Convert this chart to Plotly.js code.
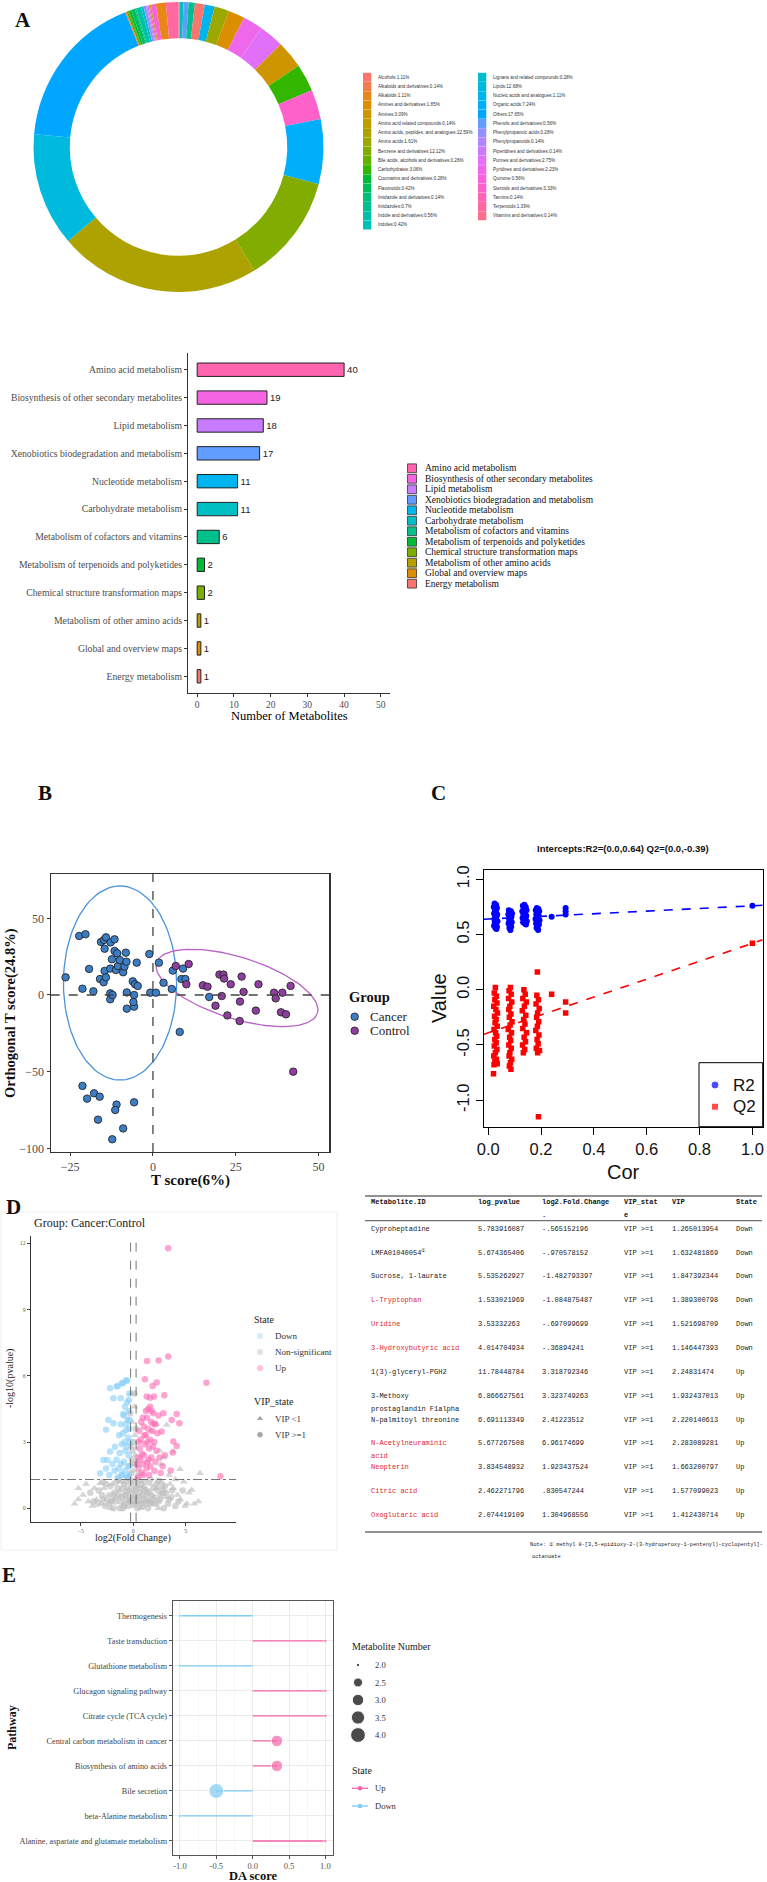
<!DOCTYPE html>
<html><head><meta charset="utf-8">
<script src="https://cdn.plot.ly/plotly-3.0.1.min.js"></script>
<style>html,body{margin:0;padding:0;background:#fff}#chart{width:767px;height:1882px}</style>
</head><body><div id="chart"></div>
<script>
// ================= DATA =================
// Panel A (donut): metabolite classes in legend order, with percentages
const classNames = ['Alcohols','Alkaloids and derivatives','Alkaloids','Amines and derivatives','Amines',
 'Amino acid related compounds','Amino acids, peptides, and analogues','Amino acids','Benzene and derivatives',
 'Bile acids, alcohols and derivatives','Carbohydrates','Coumarins and derivatives','Flavonoids',
 'Imidazole and derivatives','Imidazoles','Indole and derivatives','Indoles',
 'Lignans and related compounds','Lipids','Nucleic acids and analogues','Organic acids','Others',
 'Phenols and derivatives','Phenylpropanoic acids','Phenylpropanoids','Piperidines and derivatives',
 'Purines and derivatives','Pyridines and derivatives','Quinone','Steroids and derivatives','Tannins',
 'Terpenoids','Vitamins and derivatives'];
const classPercent = ['1.11','0.14','1.11','1.85','3.09','0.14','22.59','1.61','12.12','0.28','3.06','0.28','0.42',
 '0.14','0.7','0.56','0.42','0.28','12.68','1.11','7.24','17.65','0.56','0.28','0.14','0.14','2.75','2.23','0.56',
 '3.33','0.14','1.39','0.14'];
// order of the slices round the ring, clockwise from 12 o'clock
const ringOrder = ['Vitamins and derivatives','Indoles','Phenols and derivatives','Imidazoles','Alcohols',
 'Nucleic acids and analogues','Amino acids','Amines and derivatives','Pyridines and derivatives',
 'Purines and derivatives','Amines','Carbohydrates','Steroids and derivatives','Organic acids',
 'Benzene and derivatives','Amino acids, peptides, and analogues','Lipids','Others',
 'Alkaloids and derivatives','Bile acids, alcohols and derivatives','Coumarins and derivatives','Flavonoids',
 'Imidazole and derivatives','Indole and derivatives','Lignans and related compounds','Phenylpropanoic acids',
 'Phenylpropanoids','Piperidines and derivatives','Tannins','Amino acid related compounds','Quinone',
 'Alkaloids','Terpenoids'];

// Panel A (bars): KEGG pathway classes
const pathwayNames = ['Amino acid metabolism','Biosynthesis of other secondary metabolites','Lipid metabolism',
 'Xenobiotics biodegradation and metabolism','Nucleotide metabolism','Carbohydrate metabolism',
 'Metabolism of cofactors and vitamins','Metabolism of terpenoids and polyketides',
 'Chemical structure transformation maps','Metabolism of other amino acids','Global and overview maps',
 'Energy metabolism'];
const pathwayCounts = [40,19,18,17,11,11,6,2,2,1,1,1];
const barAxisTitle = 'Number of Metabolites';

// Panel B (OPLS-DA scores): [T score, orthogonal T score]
const cancerScores = [[-26.4,11.5],[-22.3,38.5],[-20.4,39.6],[-21.3,4.1],[-19.3,17],[-18.0,2.4],[-16.0,10.4],
 [-15.7,34.6],[-14.8,35.9],[-14.2,37.6],[-14.6,30.2],[-14.6,15.7],[-14.9,8.3],[-14.2,11.5],[-12.9,1.1],
 [-12.9,-2.8],[-12.2,0],[-12.9,17.2],[-12.8,34.3],[-12.4,23.3],[-11.6,36.3],[-11.6,28.7],[-11.2,16.3],
 [-10.8,27.2],[-10.6,18.9],[-10.0,22.8],[-9.0,14.8],[-8.6,18.5],[-8.2,27.6],[-8.0,21.7],[-7.9,1.7],
 [-7.9,-8.9],[-6.1,8.9],[-5.7,0],[-5.7,-7.6],[-5.9,-4.6],[-5.4,7.0],[-4.9,21.1],[-4.6,5.9],[-1.1,26.7],
 [-0.8,1.5],[0.9,1.5],[1.8,21.1],[3.2,8.0],[5.7,3.9],[6.0,15.9],[9.1,17.2],[8.6,10.4],[9.8,10.4],
 [17.0,-1.3],[8.1,-24.1],[-21.3,-59.3],[-17.8,-64.1],[-19.9,-67.6],[-16.1,-66.3],[-11.0,-71.5],
 [-11.4,-75.0],[-5.7,-70.0],[-16.6,-81.3],[-9.0,-87.0],[-12.3,-94.1]];
const controlScores = [[6.9,18.9],[10.8,20.2],[10.1,7.0],[15.1,6.3],[16.5,5.4],[18.9,-7.0],[20.1,13.3],
 [21.3,13.3],[21.5,10.7],[20.8,-0.7],[23.5,7.0],[22.5,-13.3],[26.2,-17.0],[26.3,-4.3],[26.8,12.0],
 [27.4,2.0],[31.1,-10.2],[31.9,7.0],[36.6,1.5],[37.1,-2.2],[39.1,1.5],[38.7,-11.3],[40.2,-12.6],
 [41.6,5.9],[42.4,-50.0]];
// 95% ellipses: [centre x, centre y, axis1 dx, axis1 dy, axis2 dx, axis2 dy]
const cancerEllipse = [-9.95, 7.8, 17.1, 0, 0, 63.3];
const controlEllipse = [25.4, 4.6, 24.3, -16.5, -2.8, -19.1];
const groupNames = ['Cancer','Control'];

// Panel C (permutation test): [Cor, value]
const r2Points = [[0.024,0.78],[0.030,0.77],[0.021,0.75],[0.033,0.74],[0.026,0.72],[0.029,0.71],[0.022,0.69],
 [0.034,0.68],[0.027,0.67],[0.031,0.66],[0.023,0.64],[0.028,0.63],[0.035,0.62],[0.025,0.61],[0.030,0.60],
 [0.022,0.58],[0.033,0.57],[0.027,0.56],[0.031,0.55],
 [0.078,0.72],[0.086,0.71],[0.082,0.70],[0.090,0.69],[0.076,0.68],[0.084,0.67],[0.088,0.66],[0.079,0.64],
 [0.085,0.63],[0.081,0.62],[0.089,0.61],[0.077,0.60],[0.083,0.58],[0.087,0.57],[0.080,0.56],[0.084,0.54],
 [0.137,0.77],[0.131,0.76],[0.142,0.75],[0.134,0.73],[0.145,0.72],[0.129,0.71],[0.139,0.70],[0.133,0.68],
 [0.144,0.67],[0.136,0.66],[0.130,0.65],[0.141,0.64],[0.135,0.63],[0.146,0.62],[0.132,0.61],[0.138,0.60],
 [0.143,0.59],
 [0.184,0.74],[0.190,0.73],[0.180,0.72],[0.193,0.71],[0.186,0.70],[0.182,0.68],[0.191,0.67],[0.188,0.65],
 [0.179,0.64],[0.194,0.63],[0.185,0.62],[0.181,0.60],[0.192,0.59],[0.187,0.57],[0.183,0.56],[0.189,0.54],
 [0.240,0.66],[0.293,0.74],[0.293,0.71],[0.293,0.68],[1.0,0.76]];
const q2Points = [[0.027,0.02],[0.023,-0.03],[0.031,-0.06],[0.025,-0.09],[0.033,-0.12],[0.021,-0.15],
 [0.029,-0.18],[0.035,-0.21],[0.024,-0.24],[0.030,-0.27],[0.026,-0.30],[0.034,-0.33],[0.022,-0.36],
 [0.028,-0.39],[0.032,-0.42],[0.025,-0.45],[0.030,-0.48],[0.023,-0.51],[0.033,-0.54],[0.027,-0.57],
 [0.021,-0.60],[0.031,-0.63],[0.025,-0.65],[0.034,-0.67],[0.022,-0.68],[0.020,-0.76],
 [0.084,0.02],[0.079,-0.01],[0.087,-0.04],[0.077,-0.08],[0.089,-0.11],[0.082,-0.15],[0.078,-0.18],
 [0.086,-0.22],[0.080,-0.25],[0.090,-0.29],[0.083,-0.32],[0.076,-0.36],[0.088,-0.39],[0.081,-0.43],
 [0.085,-0.46],[0.078,-0.50],[0.087,-0.53],[0.082,-0.57],[0.079,-0.60],[0.089,-0.63],[0.084,-0.66],
 [0.080,-0.69],[0.086,-0.72],
 [0.135,0.00],[0.140,-0.04],[0.131,-0.08],[0.144,-0.11],[0.137,-0.15],[0.129,-0.19],[0.142,-0.23],
 [0.134,-0.27],[0.139,-0.31],[0.131,-0.35],[0.145,-0.39],[0.136,-0.43],[0.141,-0.47],[0.130,-0.50],
 [0.138,-0.54],[0.133,-0.57],
 [0.186,0.16],[0.184,-0.05],[0.190,-0.09],[0.181,-0.13],[0.193,-0.17],[0.187,-0.21],[0.183,-0.25],
 [0.191,-0.29],[0.186,-0.33],[0.180,-0.37],[0.192,-0.41],[0.185,-0.45],[0.189,-0.49],[0.182,-0.53],
 [0.194,-0.55],[0.187,-0.57],[0.190,-1.15],
 [0.240,-0.04],[0.293,-0.11],[0.293,-0.21],[1.0,0.42]];
const interceptR2 = [0.0, 0.64];
const interceptQ2 = [0.0, -0.39];

// Panel D (volcano): [log2 fold change, -log10 p]
const upPoints = [[3.32,11.78],[3.32,6.87],[2.41,6.69],[6.96,5.68],[1.92,3.83],[0.83,2.46],[1.30,2.07],
 [1.30,6.67],[1.11,5.84],[1.84,5.54],[2.22,5.69],[1.27,5.06],[1.97,5.06],[2.95,5.12],[2.86,4.30],
 [4.13,4.27],[4.38,3.85],[3.65,4.0],[2.70,3.47],[3.81,3.02],[4.13,2.82],[3.75,2.52],[3.56,1.71],[8.3,1.45],
 [0.4,1.4],[0.5,1.8],[0.45,2.3],[0.6,2.7],[0.7,3.1],[0.55,3.5],[0.8,1.6],[0.9,2.0],[1.0,2.4],[1.1,2.9],
 [1.2,3.3],[1.0,3.7],[1.3,4.1],[1.4,4.5],[1.5,1.5],[1.6,1.9],[1.7,2.3],[1.5,2.7],[1.6,3.1],[1.8,3.5],
 [1.7,3.9],[1.9,4.3],[1.6,4.6],[2.0,1.7],[2.1,2.1],[2.2,2.6],[2.0,3.0],[2.3,3.4],[2.1,3.8],[2.4,4.2],
 [0.35,2.0],[0.65,2.2],[0.75,3.9],[0.95,1.5],[1.25,1.8],[1.45,2.2],[1.35,3.0],[1.85,2.8],[2.5,2.3],
 [2.6,1.6],[1.2,4.4],[1.75,4.4],[0.5,3.0],[1.05,3.3],[2.8,1.9],[3.0,2.4],[0.9,4.1],[1.6,5.0],[1.4,3.6]];
const downPoints = [[-0.57,5.78],[-0.97,5.67],[-1.48,5.54],[-1.08,1.53],[-0.70,3.53],[-0.37,4.01],
 [-2.22,5.43],[-1.59,5.51],[-1.11,5.66],[-0.70,5.78],[-1.90,4.98],[-1.21,4.98],[-2.38,4.0],[-1.90,3.85],
 [-2.60,3.55],[-3.17,1.58],[-2.86,2.19],[-2.48,2.19],[-2.22,2.57],[-1.75,2.79],[-0.97,4.27],
 [-0.4,1.5],[-0.5,1.9],[-0.45,2.4],[-0.6,2.8],[-0.5,3.2],[-0.4,3.6],[-0.55,4.0],[-0.45,4.4],[-0.6,4.8],
 [-0.8,1.7],[-0.9,2.1],[-0.75,2.6],[-0.85,3.0],[-1.0,3.4],[-0.7,3.8],[-0.9,4.2],[-0.8,4.6],[-1.1,1.5],
 [-1.2,2.0],[-1.3,2.5],[-1.1,2.9],[-1.4,1.8],[-1.6,2.2],[-1.5,1.4],[-1.8,1.7],[-2.0,2.0],[-1.35,3.3],
 [-0.35,1.9],[-0.65,1.4],[-2.3,1.5],[-2.6,1.8],[-1.2,3.8],[-0.35,3.0],[-0.38,5.2],[-0.42,4.9]];
const nsLowVipPoints = [[-5.24,0.91],[-5.24,0.41],[3.17,3.77],[6.35,1.58],[4.44,1.77],[5.56,0.83],[5.3,0.7],
 [4.92,0.1],[3.81,2.57],[2.63,2.0],[2.9,2.3],[-3.71,0.91],[-3.17,1.13],[-0.2,5.2],[0.1,4.6],[-0.1,3.9],
 [0.15,3.3],[-0.15,2.8],[0.2,2.4],[-0.25,2.0],[0.05,1.7],[2.2,3.8],[1.7,3.5],[2.5,2.6],[3.4,1.5],[4.0,1.3],
 [-1.2,1.2],[-2.4,0.6],[-4.3,0.3],[-3.0,0.2],[2.2,0.9],[3.1,0.5],[4.5,0.4],[5.8,0.2],[-1.6,0.5],[0.8,0.3],
 [1.6,1.1],[-0.6,0.9],[6.2,0.3],[-2.8,0.9],[1.2,0.6],[-0.9,0.2],[3.8,0.9],[-4.8,0.6],[-2.0,1.1],[0.4,1.0],
 [2.7,1.2],[-3.5,0.4],[4.2,0.6],[1.9,0.2],[-4.5,1.1],[-3.9,0.1],[-2.2,0.0],[-1.3,0.8],[0.3,0.5],[1.0,1.0],
 [1.4,0.3],[2.4,0.0],[3.5,1.1],[4.8,1.2],[5.1,0.2],[-0.5,0.3],[0.7,0.0],[-1.9,0.4],[2.9,0.8],[-5.6,0.2]];
const nsHighVipPoints = [[-0.5,0.1],[-0.3,0.3],[0.2,0.2],[0.5,0.5],[-0.8,0.6],[1.0,0.4],[-1.2,0.3],[1.3,0.8],
 [-1.5,0.9],[0.7,1.1],[-0.1,0.7],[0.3,0.9],[-2.1,0.3],[2.0,0.5],[-1.8,0.7],[1.7,0.6],[2.4,0.3],[-2.5,0.4],
 [0.9,0.1],[-0.7,1.2],[-0.2,1.0],[0.6,0.7],[1.1,1.2],[-1.0,0.9],[2.8,0.7],[-3.0,0.6],[3.3,0.2],[0.0,0.4],
 [-0.4,0.8],[1.5,0.3],[-1.3,0.0],[0.4,0.0],[2.2,1.1],[-2.2,1.0],[3.0,1.0],[-0.6,0.4],[0.8,0.9],[1.9,0.9],
 [-1.6,1.2],[-0.9,1.1],[0.1,1.2],[-0.2,1.6],[0.2,2.0],[-0.1,2.6],[0.0,3.0],[-0.3,4.3],[0.25,3.6],[0.1,5.2],
 [-0.15,2.2],[2.6,0.6],[-2.7,0.1],[3.6,0.5],[-3.4,0.2],[1.4,0.0],[-0.5,1.4],[0.5,1.5],[4.0,0.1],[-1.9,0.0],
 [2.9,0.0],[1.2,0.2],[-3.8,0.3],[-3.3,0.8],[-2.9,0.4],[-2.6,1.1],[-2.3,0.2],[-2.0,0.6],[-1.7,0.3],[-1.4,0.6],
 [-1.1,0.5],[-0.85,0.1],[-0.65,0.7],[-0.35,0.5],[-0.05,0.15],[0.15,0.55],[0.35,0.3],[0.65,0.2],[0.85,0.6],
 [1.05,0.8],[1.25,0.4],[1.45,0.7],[1.65,0.2],[1.85,0.4],[2.1,0.2],[2.35,0.8],[2.55,0.4],[2.75,1.0],[3.1,0.7],
 [3.4,0.4],[3.7,0.8],[4.3,0.3],[4.7,0.8],[-4.1,0.7],[-1.0,0.0],[0.2,0.8],[-0.25,1.25],[0.6,1.25],[1.6,1.3],
 [-1.4,1.3],[-2.9,1.2],[2.4,1.25]];
const fcCutoff = 0.263;   // |log2 FC|
const pCutoff = 1.301;    // -log10(0.05)
const stateNames = ['Down','Non-significant','Up'];
const vipNames = ['VIP <1','VIP >=1'];

// Table
const tableHeader = ['Metabolite.ID','log_pvalue','log2.Fold.Change\n.','VIP_stat\ne','VIP','State'];
const tableIds = ['Cyproheptadine','LMFA01040054<sup>①</sup>','Sucrose, 1-laurate','L-Tryptophan','Uridine',
 '3-Hydroxybutyric acid','1(3)-glyceryl-PGH2','3-Methoxy\nprostaglandin F1alpha','N-palmitoyl threonine',
 'N-Acetylneuraminic\nacid','Neopterin','Citric acid','Oxoglutaric acid'];
const tableLogP = [5.783916087,5.674365406,5.535262927,1.533021969,3.53332263,4.014704934,11.78448784,
 6.866627561,6.691113349,5.677267508,3.834548932,2.462271796,2.074419109];
const tableLog2FC = [-0.565152196,-0.970578152,-1.482793397,-1.084875487,-0.697099699,-0.36894241,
 3.318792346,3.323749263,2.41223512,6.96174699,1.923437524,0.830547244,1.304968556];
const tableVipState = ['VIP >=1','VIP >=1','VIP >=1','VIP >=1','VIP >=1','VIP >=1','VIP >=1','VIP >=1',
 'VIP >=1','VIP >=1','VIP >=1','VIP >=1','VIP >=1'];
const tableVip = [1.265013954,1.632481869,1.847392344,1.389300798,1.521698709,1.146447393,2.24831474,
 1.932437013,2.220140613,2.283089281,1.663200797,1.577099023,1.412430714];
const tableState = ['Down','Down','Down','Down','Down','Down','Up','Up','Up','Up','Up','Up','Up'];
const tableHighlighted = [false,false,false,true,true,true,false,false,false,true,true,true,true];
const tableNote = ['Note: ① methyl 8-[3,5-epidioxy-2-(3-hydroperoxy-1-pentenyl)-cyclopentyl]-','octanoate'];

// Panel E (DA score)
const daPathways = ['Thermogenesis','Taste transduction','Glutathione metabolism','Glucagon signaling pathway',
 'Citrate cycle (TCA cycle)','Central carbon metabolism in cancer','Biosynthesis of amino acids',
 'Bile secretion','beta-Alanine metabolism','Alanine, aspartate and glutamate metabolism'];
const daScore = [-1, 1, -1, 1, 1, 0.333, 0.333, -0.5, -1, 1];
const daCount = [2, 2, 2, 2, 2, 3, 3, 4, 2, 2];
const daState = ['Down','Up','Down','Up','Up','Up','Up','Down','Down','Up'];
const sizeBreaks = [2.0, 2.5, 3.0, 3.5, 4.0];

// ================= DRAWING =================
const W = 767, H = 1882;
const SERIF = 'Liberation Serif, Times New Roman, serif';
const SANS = 'Liberation Sans, Arial, sans-serif';
const MONO = 'Liberation Mono, Courier New, monospace';

function hcl(h, c, l) {
  const hr = h * Math.PI / 180;
  const U = c * Math.cos(hr), V = c * Math.sin(hr);
  const Xn = 95.047, Yn = 100, Zn = 108.883;
  const Y = Yn * Math.pow((l + 16) / 116, 3);
  const t = Xn + 15 * Yn + 3 * Zn;
  const un = 4 * Xn / t, vn = 9 * Yn / t;
  const u = U / (13 * l) + un, v = V / (13 * l) + vn;
  const X = 9 * Y * u / (4 * v);
  const Z = Y * (12 - 3 * u - 20 * v) / (4 * v);
  const x = X / 100, y = Y / 100, z = Z / 100;
  const lin = [3.240479 * x - 1.537150 * y - 0.498535 * z,
               -0.969256 * x + 1.875992 * y + 0.041556 * z,
               0.055648 * x - 0.204043 * y + 1.057311 * z];
  const g = lin.map(a => { a = a <= 0.0031308 ? 12.92 * a : 1.055 * Math.pow(a, 1 / 2.4) - 0.055;
    return Math.round(Math.max(0, Math.min(1, a)) * 255); });
  return 'rgb(' + g.join(',') + ')';
}

const traces = [], shapes = [], annotations = [];
function label(t, x, y, font, xanchor, extra) {
  annotations.push(Object.assign({text: t, x: x, y: y, xref: 'x7', yref: 'y7', showarrow: false,
    xanchor: xanchor || 'left', yanchor: 'middle', font: font}, extra || {}));
}
function rectPx(x0, y0, x1, y1, fill, line, layer) {
  shapes.push({type: 'rect', xref: 'x7', yref: 'y7', x0: x0, y0: y0, x1: x1, y1: y1,
    fillcolor: fill, line: line || {width: 0}, layer: layer || 'above'});
}
const xs = a => a.map(p => p[0]);
const ys = a => a.map(p => p[1]);

// ---- page overlay axis (pixel space) for legends and labels
traces.push({type: 'scatter', x: [0], y: [0], xaxis: 'x7', yaxis: 'y7', mode: 'markers',
  marker: {size: 1, color: 'rgba(0,0,0,0)'}, showlegend: false, hoverinfo: 'skip'});

// faint frame round panel D volcano
rectPx(1, 1212, 337, 1550, 'rgba(0,0,0,0)', {color: '#EEEEEE', width: 1}, 'below');

// ---- Panel letters
[['A', 23, 20], ['B', 45, 793], ['C', 438, 793], ['D', 13, 1207], ['E', 9, 1575]].forEach(l =>
  label('<b>' + l[0] + '</b>', l[1], l[2], {family: SERIF, size: 21, color: '#111'}, 'center'));

// ---- Panel A donut
const nClass = classNames.length;
const classColors = classNames.map((_, i) => hcl(15 + i * 360 / nClass, 100, 65));
const ringIdx = ringOrder.map(n => classNames.indexOf(n));
traces.push({type: 'pie', labels: ringIdx.map(i => classNames[i]), values: ringIdx.map(i => Number(classPercent[i])),
  marker: {colors: ringIdx.map(i => classColors[i]), line: {width: 0}}, hole: 0.75, sort: false,
  direction: 'clockwise', rotation: 0, textinfo: 'none', showlegend: false,
  domain: {x: [33.5 / W, 323.5 / W], y: [1 - 292 / H, 1 - 2 / H]}});
classNames.forEach((n, i) => {
  const col = i < 17 ? 0 : 1, row = col ? i - 17 : i;
  const sx = col ? 478 : 363, y = 77.3 + row * 9.23;
  rectPx(sx, y - 4.5, sx + 8.3, y + 4.5, classColors[i]);
  label(n + ':' + classPercent[i] + '%', sx + 12.5, y, {family: SANS, size: 4.6, color: '#333'});
});

// ---- Panel A bars
const pathwayColors = ['#FF64B0','#F564E3','#C77CFF','#619CFF','#00B4F0','#00BFC4','#00C08B','#00BA38',
  '#7CAE00','#B79F00','#DE8C00','#F8766D'];
traces.push({type: 'bar', orientation: 'h', x: pathwayCounts, y: pathwayNames, xaxis: 'x', yaxis: 'y',
  marker: {color: pathwayColors, line: {color: '#222', width: 1}}, width: 0.48,
  text: pathwayCounts.map(String), textposition: 'outside', cliponaxis: false,
  textfont: {family: SANS, size: 9.5, color: '#222'}, showlegend: false});
label(barAxisTitle, 289, 716, {family: SERIF, size: 12.5, color: '#000'}, 'center');
pathwayNames.forEach((n, i) => {
  const y = 468.3 + i * 10.49;
  rectPx(407.5, y - 4.4, 416.5, y + 4.4, pathwayColors[i], {color: '#333', width: 0.8});
  label(n, 423.3, y, {family: SERIF, size: 9.5, color: '#111'});
});

// ---- Panel B scores
function ellipse(e) {
  const ex = [], ey = [];
  for (let k = 0; k <= 120; k++) { const t = 2 * Math.PI * k / 120;
    ex.push(e[0] + e[2] * Math.cos(t) + e[4] * Math.sin(t)); ey.push(e[1] + e[3] * Math.cos(t) + e[5] * Math.sin(t)); }
  return [ex, ey];
}
const groupFill = ['#3C7DC4', '#8E3F9E'], groupLine = ['#4A93D8', '#B862C8'];
[cancerEllipse, controlEllipse].forEach((e, g) => { const p = ellipse(e);
  traces.push({type: 'scatter', mode: 'lines', x: p[0], y: p[1], xaxis: 'x2', yaxis: 'y2',
    line: {color: groupLine[g], width: 1.3}, showlegend: false, hoverinfo: 'skip'}); });
[cancerScores, controlScores].forEach((s, g) =>
  traces.push({type: 'scatter', mode: 'markers', x: xs(s), y: ys(s), xaxis: 'x2', yaxis: 'y2', name: groupNames[g],
    marker: {size: 7.5, color: groupFill[g], line: {color: '#1a1a1a', width: 0.8}}, showlegend: false}));
shapes.push({type: 'line', xref: 'x2', yref: 'y2 domain', x0: 0, x1: 0, y0: 0, y1: 1, line: {color: '#444', width: 1.3, dash: 'dash'}});
shapes.push({type: 'line', xref: 'x2 domain', yref: 'y2', x0: 0, x1: 1, y0: 0, y1: 0, line: {color: '#444', width: 1.3, dash: 'dash'}});
label('<b>T score(6%)</b>', 190, 1180, {family: SERIF, size: 15, color: '#111'}, 'center');
label('<b>Orthogonal T score(24.8%)</b>', 10, 1013, {family: SERIF, size: 14.5, color: '#111'}, 'center', {textangle: -90});
label('<b>Group</b>', 347, 997, {family: SERIF, size: 14.5, color: '#111'});
traces.push({type: 'scatter', mode: 'markers', x: [354.7, 354.7], y: [1016.7, 1030.7], xaxis: 'x7', yaxis: 'y7',
  marker: {size: 7.5, color: groupFill, line: {color: '#1a1a1a', width: 0.8}}, showlegend: false, hoverinfo: 'skip'});
groupNames.forEach((n, g) => label(n, 368.3, 1016.7 + g * 14, {family: SERIF, size: 13, color: '#222'}));

// ---- Panel C permutation
traces.push({type: 'scatter', mode: 'markers', x: xs(r2Points), y: ys(r2Points), xaxis: 'x3', yaxis: 'y3',
  marker: {size: 6, color: '#0000FF', symbol: 'circle'}, showlegend: false});
traces.push({type: 'scatter', mode: 'markers', x: xs(q2Points), y: ys(q2Points), xaxis: 'x3', yaxis: 'y3',
  marker: {size: 5.5, color: '#FF0000', symbol: 'square'}, showlegend: false});
function regLine(pts, icpt, color) {
  const real = pts.reduce((a, b) => (b[0] > a[0] ? b : a));
  const slope = (real[1] - icpt[1]) / (real[0] - icpt[0]);
  const lx = [-0.016, 1.039];
  traces.push({type: 'scatter', mode: 'lines', x: lx, y: lx.map(v => icpt[1] + slope * (v - icpt[0])),
    xaxis: 'x3', yaxis: 'y3', line: {color: color, width: 1.6, dash: 'dash'}, showlegend: false, hoverinfo: 'skip'});
}
regLine(r2Points, interceptR2, '#0000FF');
regLine(q2Points, interceptQ2, '#FF0000');
label('<b>Intercepts:R2=(' + interceptR2[0].toFixed(1) + ',' + interceptR2[1].toFixed(2) + ') Q2=(' +
  interceptQ2[0].toFixed(1) + ',' + interceptQ2[1].toFixed(2) + ')</b>', 623, 848, {family: SANS, size: 9.5, color: '#111'}, 'center');
label('Value', 439, 998, {family: SANS, size: 20, color: '#111'}, 'center', {textangle: -90});
label('Cor', 623, 1172, {family: SANS, size: 20, color: '#111'}, 'center');
rectPx(699, 1062.7, 762.7, 1126.7, 'rgba(255,255,255,1)', {color: '#000', width: 1}, 'below');
traces.push({type: 'scatter', mode: 'markers', x: [715, 715], y: [1085, 1106.7], xaxis: 'x7', yaxis: 'y7',
  marker: {size: [8, 7], color: ['#0000FF', '#FF0000'], symbol: ['circle', 'square']}, showlegend: false, hoverinfo: 'skip'});
label('R2', 731, 1085, {family: SANS, size: 17, color: '#111'});
label('Q2', 731, 1106.7, {family: SANS, size: 17, color: '#111'});

// ---- Panel D volcano
const downCol = 'rgba(135,206,250,0.6)', nsCol = 'rgba(190,190,190,0.65)', upCol = 'rgba(255,105,180,0.6)';
traces.push({type: 'scatter', mode: 'markers', x: xs(nsLowVipPoints), y: ys(nsLowVipPoints), xaxis: 'x4', yaxis: 'y4',
  marker: {size: 7, color: nsCol, symbol: 'triangle-up'}, showlegend: false});
traces.push({type: 'scatter', mode: 'markers', x: xs(nsHighVipPoints), y: ys(nsHighVipPoints), xaxis: 'x4', yaxis: 'y4',
  marker: {size: 6.5, color: nsCol}, showlegend: false});
traces.push({type: 'scatter', mode: 'markers', x: xs(downPoints), y: ys(downPoints), xaxis: 'x4', yaxis: 'y4',
  marker: {size: 6.5, color: downCol}, showlegend: false});
traces.push({type: 'scatter', mode: 'markers', x: xs(upPoints), y: ys(upPoints), xaxis: 'x4', yaxis: 'y4',
  marker: {size: 6.5, color: upCol}, showlegend: false});
[-fcCutoff, fcCutoff].forEach(v => shapes.push({type: 'line', xref: 'x4', yref: 'y4 domain', x0: v, x1: v, y0: 0, y1: 1,
  line: {color: '#555', width: 0.8, dash: 'dash'}}));
shapes.push({type: 'line', xref: 'x4 domain', yref: 'y4', x0: 0, x1: 1, y0: pCutoff, y1: pCutoff,
  line: {color: '#555', width: 0.8, dash: 'dashdot'}});
label('Group: ' + groupNames[0] + ':' + groupNames[1], 32, 1223, {family: SERIF, size: 12, color: '#222'});
label('-log10(pvalue)', 10, 1379, {family: SERIF, size: 10, color: '#222'}, 'center', {textangle: -90});
label('log2(Fold Change)', 133, 1538, {family: SERIF, size: 10, color: '#222'}, 'center');
label('State', 252, 1319, {family: SERIF, size: 10, color: '#222'});
label('VIP_state', 252, 1401.7, {family: SERIF, size: 10, color: '#222'});
traces.push({type: 'scatter', mode: 'markers', x: [260, 260, 260, 260, 260], y: [1336, 1352, 1368, 1418.7, 1434.7],
  xaxis: 'x7', yaxis: 'y7', marker: {size: [7, 7, 7, 7, 6.5], color: [downCol, nsCol, upCol, '#7f7f7f', '#7f7f7f'],
  symbol: ['circle', 'circle', 'circle', 'triangle-up', 'circle']}, showlegend: false, hoverinfo: 'skip'});
stateNames.forEach((n, i) => label(n, 273, 1336 + i * 16, {family: SERIF, size: 9, color: '#333'}));
vipNames.forEach((n, i) => label(n, 273, 1418.7 + i * 16, {family: SERIF, size: 9, color: '#333'}));

// ---- Table
const colX = [369, 476, 540, 622, 670, 734];
const rowY = i => 1228.7 + i * 23.85;
const fmt = v => String(v).replace(/^(-?)0\./, '$1.');
shapes.push({type: 'line', xref: 'x7', yref: 'y7', x0: 365, x1: 762, y0: 1196, y1: 1196, line: {color: '#222', width: 1}});
shapes.push({type: 'line', xref: 'x7', yref: 'y7', x0: 365, x1: 762, y0: 1220.7, y1: 1220.7, line: {color: '#222', width: 0.8}});
shapes.push({type: 'line', xref: 'x7', yref: 'y7', x0: 365, x1: 762, y0: 1532, y1: 1532, line: {color: '#222', width: 1}});
function cell(t, j, y, color, bold) {
  t.split('\n').forEach((ln, k) => label(bold ? '<b>' + ln + '</b>' : ln, colX[j], y + k * 13,
    {family: MONO, size: 7, color: color}));
}
tableHeader.forEach((h, j) => cell(h, j, 1202, '#111', true));
tableIds.forEach((id, i) => {
  const y = rowY(i), red = tableHighlighted[i] ? '#E0262B' : '#222';
  cell(id, 0, y, red);
  cell(fmt(tableLogP[i]), 1, y, '#222');
  cell(fmt(tableLog2FC[i]), 2, y, '#222');
  cell(tableVipState[i], 3, y, '#222');
  cell(fmt(tableVip[i]), 4, y, '#222');
  cell(tableState[i], 5, y, '#222');
});
label(tableNote[0], 528, 1545, {family: MONO, size: 5.3, color: '#222'});
label(tableNote[1], 530, 1557, {family: MONO, size: 5.3, color: '#222'});

// ---- Panel E DA score
const upE = '#F564A8', downE = '#7FCBF2';
const sizeOf = v => 2.3 * (1 + 5 * Math.sqrt((v - 2) / 2)) + 1;
['Up', 'Down'].forEach(st => {
  const sx = [], sy = [];
  daPathways.forEach((p, i) => { if (daState[i] === st) { sx.push(0, daScore[i], null); sy.push(p, p, null); } });
  traces.push({type: 'scatter', mode: 'lines', x: sx, y: sy, xaxis: 'x5', yaxis: 'y5',
    line: {color: st === 'Up' ? upE : downE, width: 1.3}, showlegend: false, hoverinfo: 'skip'});
});
['Up', 'Down'].forEach(st => {
  const idx = daPathways.map((_, i) => i).filter(i => daState[i] === st);
  traces.push({type: 'scatter', mode: 'markers', x: idx.map(i => daScore[i]), y: idx.map(i => daPathways[i]),
    xaxis: 'x5', yaxis: 'y5', marker: {size: idx.map(i => sizeOf(daCount[i])), color: st === 'Up' ? upE : downE},
    showlegend: false});
});
label('<b>DA score</b>', 253, 1876, {family: SERIF, size: 12.5, color: '#111'}, 'center');
label('<b>Pathway</b>', 12, 1728, {family: SERIF, size: 12, color: '#111'}, 'center', {textangle: -90});
label('Metabolite Number', 350, 1646.7, {family: SERIF, size: 10, color: '#222'});
traces.push({type: 'scatter', mode: 'markers', x: sizeBreaks.map(() => 358), y: sizeBreaks.map((_, i) => 1665 + i * 17.5),
  xaxis: 'x7', yaxis: 'y7', marker: {size: sizeBreaks.map(sizeOf), color: '#000'}, showlegend: false, hoverinfo: 'skip'});
sizeBreaks.forEach((b, i) => label(b.toFixed(1), 373, 1665 + i * 17.5, {family: SERIF, size: 8.5, color: '#333'}));
label('State', 350, 1770, {family: SERIF, size: 10, color: '#222'});
['Up', 'Down'].forEach((st, i) => {
  const y = 1788.3 + i * 17.7, c = st === 'Up' ? upE : downE;
  traces.push({type: 'scatter', mode: 'lines', x: [352, 368], y: [y, y], xaxis: 'x7', yaxis: 'y7',
    line: {color: c, width: 1.3}, showlegend: false, hoverinfo: 'skip'});
  traces.push({type: 'scatter', mode: 'markers', x: [360], y: [y], xaxis: 'x7', yaxis: 'y7',
    marker: {size: 4.5, color: c}, showlegend: false, hoverinfo: 'skip'});
  label(st, 373, y, {family: SERIF, size: 8.5, color: '#333'});
});

// ================= LAYOUT =================
const dom = (a, b) => [a / W, b / W];
const domY = (top, bot) => [1 - bot / H, 1 - top / H];
const baseAx = {showgrid: false, zeroline: false, fixedrange: true, ticks: 'outside', showline: true};
const layout = {
  width: W, height: H, margin: {l: 0, r: 0, t: 0, b: 0}, paper_bgcolor: '#fff', plot_bgcolor: 'rgba(0,0,0,0)',
  showlegend: false, hovermode: false,
  xaxis: Object.assign({}, baseAx, {domain: dom(188, 390), anchor: 'y', range: [-2.5, 52.5], tickvals: [0, 10, 20, 30, 40, 50],
    ticklen: 3, tickcolor: '#333', linecolor: '#333', linewidth: 1, tickfont: {family: SERIF, size: 9.5, color: '#4D4D4D'}}),
  yaxis: Object.assign({}, baseAx, {domain: domY(353, 693), anchor: 'x', type: 'category', categoryorder: 'array',
    categoryarray: pathwayNames, range: [11.6, -0.6], ticklen: 3, tickcolor: '#333', linecolor: '#333', linewidth: 1,
    tickfont: {family: SERIF, size: 9.7, color: '#4D4D4D'}}),
  xaxis2: Object.assign({}, baseAx, {domain: dom(50.7, 329.3), anchor: 'y2', range: [-30.9, 53.3], tickvals: [-25, 0, 25, 50],
    ticklen: 3, tickcolor: '#333', linecolor: '#333', linewidth: 1.2, mirror: true, tickfont: {family: SERIF, size: 12, color: '#4D4D4D'}}),
  yaxis2: Object.assign({}, baseAx, {domain: domY(874, 1152), anchor: 'x2', range: [-102.4, 78.9], tickvals: [-100, -50, 0, 50],
    ticklen: 3, tickcolor: '#333', linecolor: '#333', linewidth: 1.2, mirror: true, tickfont: {family: SERIF, size: 12, color: '#4D4D4D'}}),
  xaxis3: Object.assign({}, baseAx, {domain: dom(484, 762.7), anchor: 'y3', range: [-0.016, 1.039], tickvals: [0, 0.2, 0.4, 0.6, 0.8, 1],
    ticktext: ['0.0', '0.2', '0.4', '0.6', '0.8', '1.0'], ticklen: 7, tickcolor: '#000', linecolor: '#000', linewidth: 1, mirror: true,
    tickfont: {family: SANS, size: 16.5, color: '#111'}}),
  yaxis3: Object.assign({}, baseAx, {domain: domY(870, 1126.7), anchor: 'x3', range: [-1.24, 1.084], tickvals: [-1, -0.5, 0, 0.5, 1],
    ticktext: ['-1.0', '-0.5', '0.0', '0.5', '1.0'], tickangle: -90, ticklen: 7, tickcolor: '#000', linecolor: '#000', linewidth: 1,
    mirror: true, tickfont: {family: SANS, size: 16.5, color: '#111'}}),
  xaxis4: Object.assign({}, baseAx, {domain: dom(31, 236), anchor: 'y4', range: [-9.75, 9.78], tickvals: [-5, 0, 5],
    ticklen: 3, tickcolor: '#444', linecolor: '#333', linewidth: 1, tickfont: {family: SERIF, size: 6, color: '#666'}}),
  yaxis4: Object.assign({}, baseAx, {domain: domY(1236, 1521.7), anchor: 'x4', range: [-0.61, 12.33], tickvals: [0, 3, 6, 9, 12],
    ticklen: 3, tickcolor: '#444', linecolor: '#333', linewidth: 1, tickfont: {family: SERIF, size: 6, color: '#666'}}),
  xaxis5: Object.assign({}, baseAx, {domain: dom(172.7, 332.7), anchor: 'y5', range: [-1.1, 1.1], tickvals: [-1, -0.5, 0, 0.5, 1],
    ticktext: ['-1.0', '-0.5', '0.0', '0.5', '1.0'], ticklen: 3, tickcolor: '#555', linecolor: '#555', linewidth: 1, mirror: true,
    showgrid: true, gridcolor: '#EBEBEB', gridwidth: 1, minor: {dtick: 0.25, tick0: -1, showgrid: true, gridcolor: '#F3F3F3', gridwidth: 0.7},
    tickfont: {family: SERIF, size: 8.5, color: '#555'}}),
  yaxis5: Object.assign({}, baseAx, {domain: domY(1601, 1855), anchor: 'x5', type: 'category', categoryorder: 'array',
    categoryarray: daPathways, range: [9.56, -0.59], ticklen: 3, tickcolor: '#555', linecolor: '#555', linewidth: 1, mirror: true,
    showgrid: true, gridcolor: '#EBEBEB', gridwidth: 1, tickfont: {family: SERIF, size: 8.2, color: '#444'}}),
  xaxis7: {domain: [0, 1], anchor: 'y7', range: [0, W], visible: false, fixedrange: true},
  yaxis7: {domain: [0, 1], anchor: 'x7', range: [H, 0], visible: false, fixedrange: true},
  shapes: shapes, annotations: annotations
};
Plotly.newPlot('chart', traces, layout, {staticPlot: true, displayModeBar: false});
</script></body></html>
